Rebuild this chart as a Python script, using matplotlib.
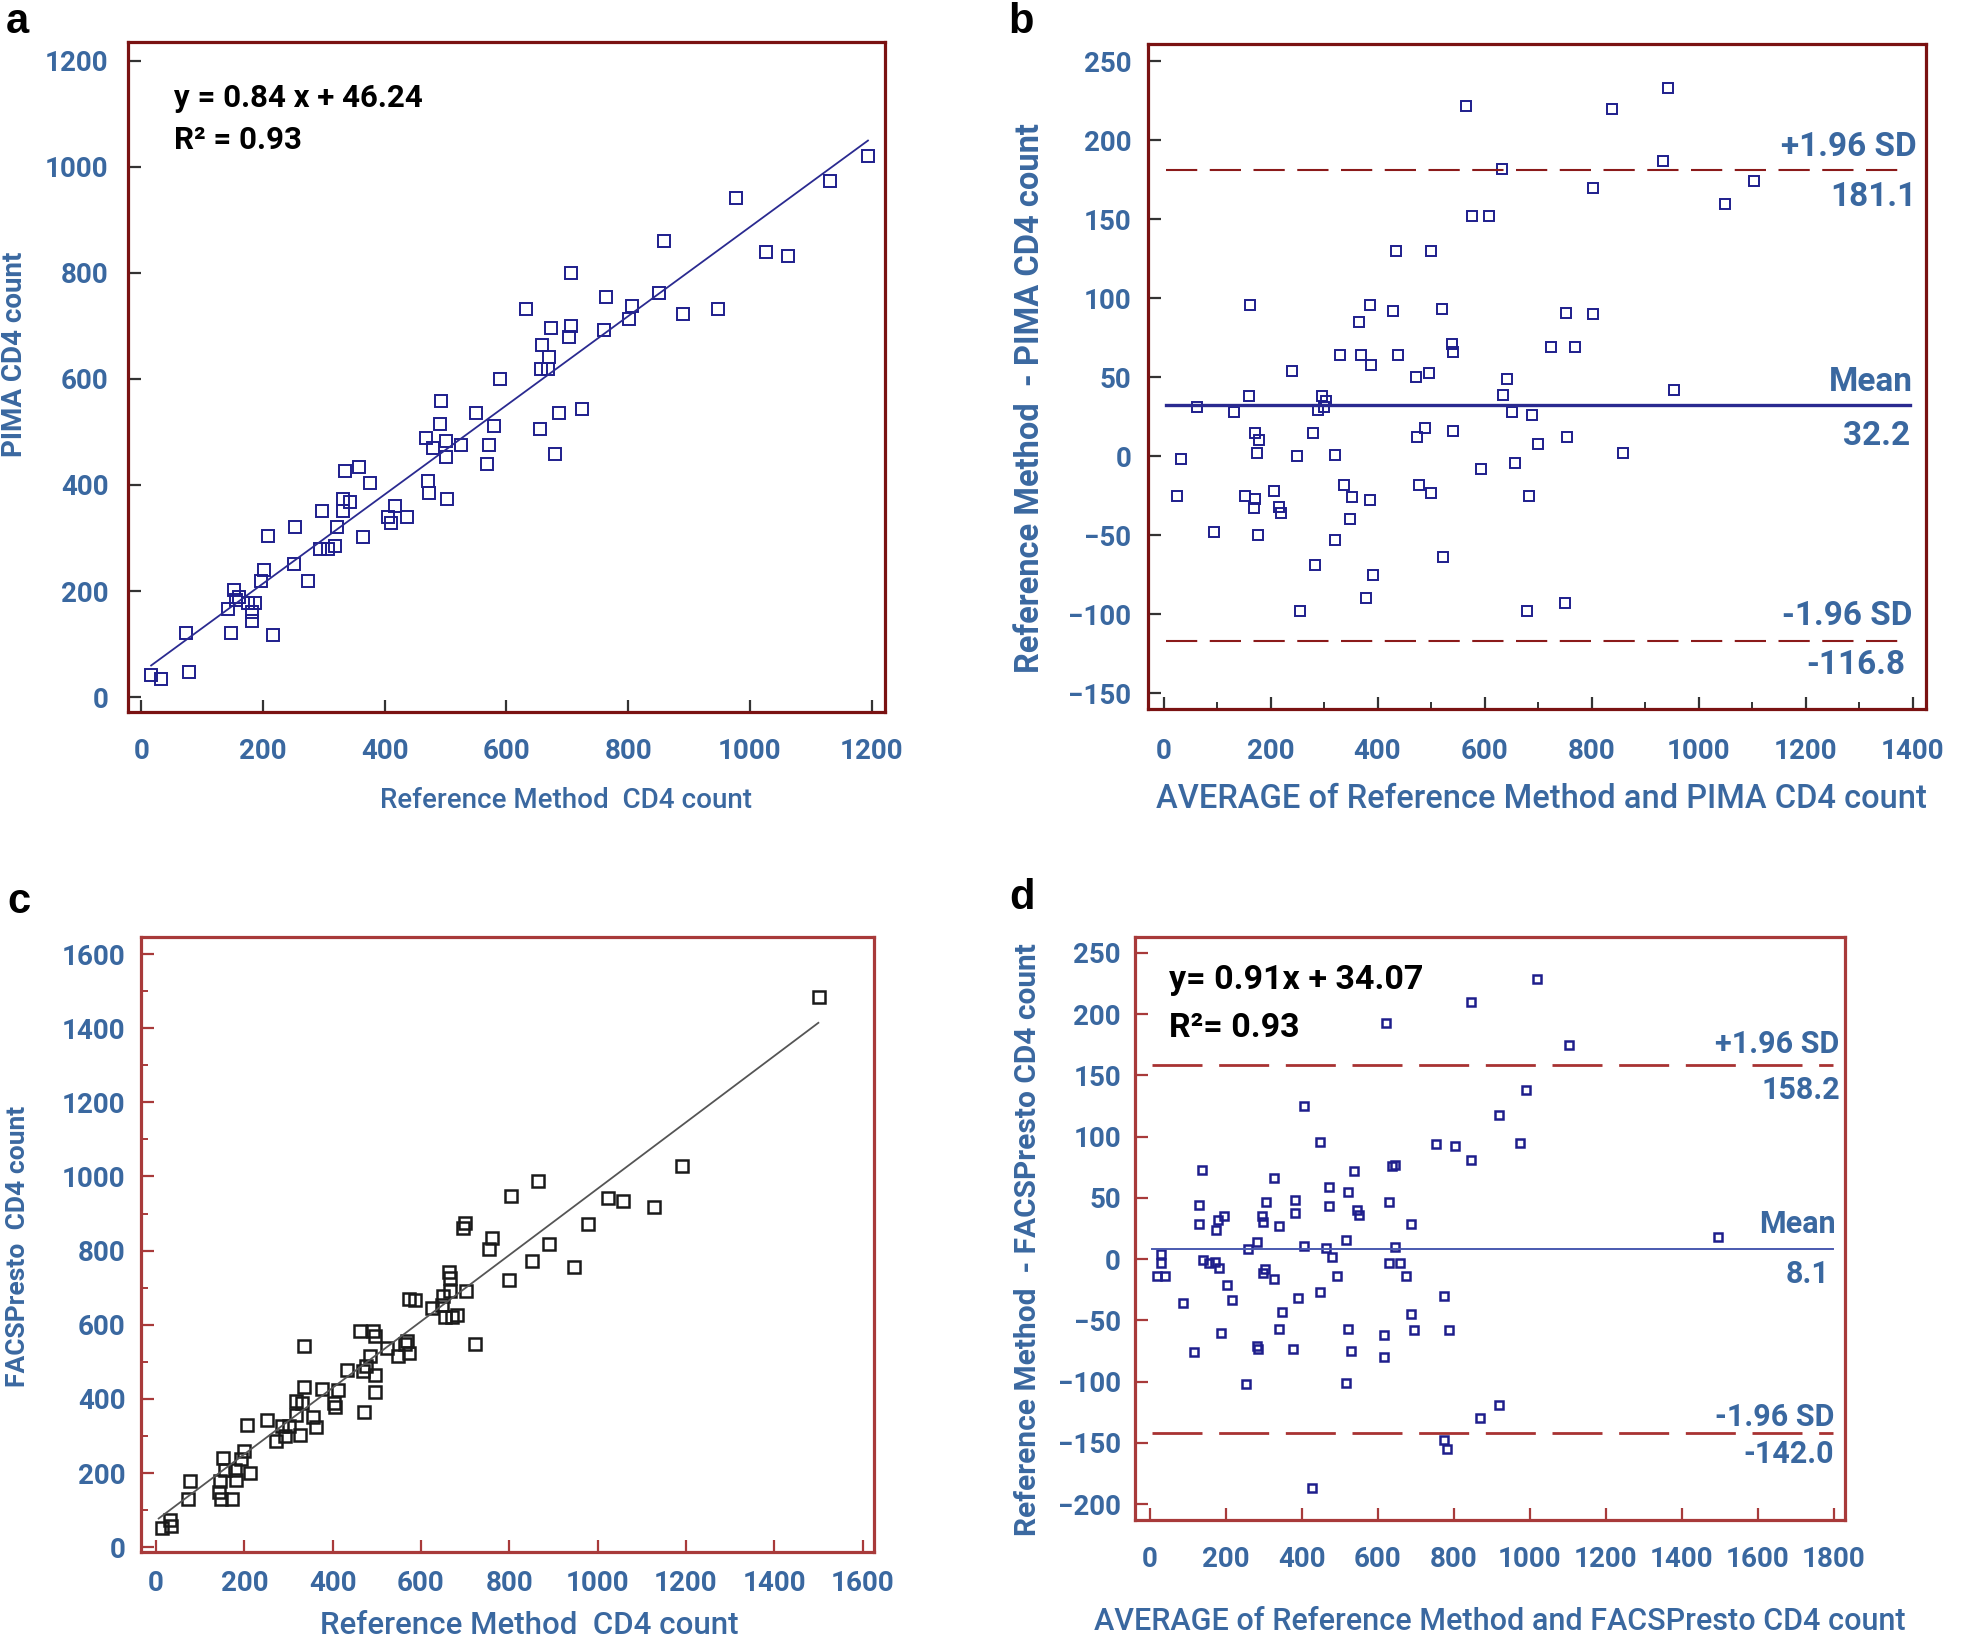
import numpy as np
import matplotlib
matplotlib.use("Agg")
import matplotlib.pyplot as plt
from matplotlib.ticker import MultipleLocator

plt.rcParams['font.family'] = ['Roboto', 'DejaVu Sans']
plt.rcParams['font.weight'] = 'bold'

W, H = 1961, 1639
BLUE_TXT = '#3a68a0'
NAVY = '#1e1e8c'

# ---- panel a: PIMA vs reference
a_x = [16, 33, 74, 79, 143, 148, 152, 156, 161, 176, 181, 182, 186, 196, 202, 208, 216,
       252, 251, 273, 294, 296, 306, 318, 322, 331, 331, 335, 343, 358, 364, 376, 406,
       411, 417, 437, 467, 471, 473, 480, 490, 492, 500, 500, 502, 525, 550, 568, 571,
       579, 590, 632, 655, 657, 658, 668, 670, 673, 679, 686, 703, 706, 706, 724, 760,
       763, 802, 807, 850, 859, 890, 948, 977, 1026, 1062, 1131, 1194]
a_y = [41, 35, 121, 48, 166, 121, 202, 184, 189, 177, 160, 144, 177, 219, 239, 304, 117,
       320, 251, 219, 279, 350, 279, 285, 320, 350, 374, 426, 367, 433, 301, 403, 340,
       328, 361, 340, 489, 407, 385, 470, 515, 558, 482, 453, 373, 476, 536, 440, 476,
       511, 600, 732, 506, 619, 664, 619, 641, 696, 459, 536, 679, 699, 799, 543, 692,
       755, 713, 738, 761, 860, 722, 732, 940, 840, 831, 973, 1020]
a_slope, a_icpt = 0.84, 46.24

# ---- panel b: Bland-Altman PIMA
b_x = [25, 33, 62, 94, 131, 153, 159, 162, 169, 171, 171, 174, 178, 177, 206, 216, 219,
       241, 249, 256, 280, 283, 288, 297, 299, 303, 321, 321, 330, 337, 349, 353, 366,
       369, 379, 385, 387, 386, 392, 429, 434, 438, 472, 473, 477, 489, 497, 499, 499,
       521, 522, 539, 541, 541, 566, 577, 593, 608, 632, 634, 641, 651, 657, 680, 683,
       688, 699, 725, 750, 753, 755, 769, 802, 802, 839, 859, 933, 942, 954, 1050, 1104]
b_y = [-25, -2, 31, -48, 28, -25, 38, 96, -33, 15, -27, 2, 10, -50, -22, -32, -36,
       54, 0, -98, 15, -69, 29, 38, 31, 35, 1, -53, 64, -18, -40, -26, 85,
       64, -90, 96, 58, -28, -75, 92, 130, 64, 50, 12, -18, 18, 53, 130, -23,
       93, -64, 71, 66, 16, 222, 152, -8, 152, 182, 39, 49, 28, -4, -98, -25,
       26, 8, 69, -93, 91, 12, 69, 170, 90, 220, 2, 187, 233, 42, 160, 174]
b_mean, b_upper, b_lower = 32.2, 181.1, -116.8

# ---- panel c: FACSPresto vs reference
c_x = [14, 33, 31, 72, 78, 142, 145, 147, 151, 156, 173, 178, 182, 193, 200, 212, 207,
       251, 271, 286, 291, 302, 316, 317, 326, 330, 336, 336, 355, 362, 375, 403, 406,
       412, 432, 463, 470, 468, 476, 484, 492, 497, 497, 497, 523, 548, 563, 568, 574,
       574, 587, 624, 647, 649, 654, 663, 665, 666, 671, 682, 696, 700, 702, 722, 753,
       760, 800, 805, 851, 864, 890, 946, 978, 1024, 1058, 1127, 1192, 1501]
c_y = [52, 58, 72, 130, 179, 149, 179, 131, 241, 209, 130, 208, 182, 237, 260, 199, 330,
       343, 286, 327, 301, 327, 357, 395, 303, 390, 543, 432, 351, 323, 428, 388, 379,
       425, 477, 582, 366, 475, 490, 517, 582, 570, 464, 419, 536, 517, 549, 556, 523,
       670, 666, 646, 654, 678, 621, 742, 726, 691, 621, 625, 861, 874, 691, 549, 804,
       833, 722, 948, 773, 988, 819, 756, 872, 942, 935, 917, 1027, 1485]
c_slope, c_icpt = 0.895, 72

# ---- panel d: Bland-Altman FACSPresto
d_x = [29, 29, 19, 39, 87, 116, 130, 130, 138, 140, 155, 172, 174, 179, 182, 188, 196,
       203, 217, 254, 258, 282, 283, 285, 296, 298, 303, 306, 299, 327, 327, 341, 341,
       349, 383, 383, 378, 391, 406, 406, 449, 449, 464, 472, 472, 478, 493, 515, 515,
       522, 522, 528, 536, 544, 551, 615, 615, 621, 630, 630, 638, 646, 646, 657, 673,
       688, 688, 694, 752, 773, 773, 781, 787, 802, 845, 845, 868, 918, 918, 974, 989,
       1018, 1104, 1494, 427]
d_y = [4, -3, -14, -14, -36, -76, 44, 29, 73, -1, -3, -2, 24, 32, -7, -60, 35,
       -21, -33, -102, 8, 14, -71, -73, 35, 30, -8, 47, -11, 66, -16, 27, -57,
       -43, 48, 38, -73, -32, 125, 11, 96, -27, 9, 59, 43, 2, -14, 16, -101,
       55, -57, -75, 72, 40, 36, -62, -80, 193, 47, -3, 76, 77, 10, -3, -14,
       29, -45, -58, 94, -30, -148, -155, -58, 92, 210, 81, -130, 118, -119, 95, 138,
       229, 175, 18, -187]
d_mean, d_upper, d_lower = 8.1, 158.2, -142.0


def px_axes(fig, l, r, t, b):
    return fig.add_axes([l / W, 1 - b / H, (r - l) / W, (b - t) / H])


def style(ax, spine_col, tick_col, xpad, ypad):
    for s in ax.spines.values():
        s.set_color(spine_col)
        s.set_linewidth(2.3)
    ax.tick_params(direction='in', length=9, width=1.6, color=tick_col,
                   labelsize=20, labelcolor=BLUE_TXT, top=False, right=False)
    ax.tick_params(axis='x', pad=xpad)
    ax.tick_params(axis='y', pad=ypad)
    ax.tick_params(which='minor', direction='in', length=5, width=1.4, color=tick_col)


def ftext(x, y, s, **kw):
    fig.text(x / W, 1 - y / H, s, **kw)


fig = plt.figure(figsize=(W / 100, H / 100), dpi=100)

# panel a
ax = px_axes(fig, 128, 885, 42, 712)
ax.plot(a_x, a_y, 's', mfc='none', mec=NAVY, ms=8, mew=1.4)
fx = np.array([min(a_x), max(a_x)])
ax.plot(fx, a_slope * fx + a_icpt, color='#2a2a90', lw=1.3)
ax.set_xlim(-22, 1222)
ax.set_ylim(-28, 1235)
ax.set_xticks(range(0, 1201, 200))
ax.set_yticks(range(0, 1201, 200))
style(ax, '#7a1212', '#333333', 19, 14)
ax.text(54, 1129, 'y = 0.84 x + 46.24', fontsize=22.5, va='center')
ax.text(54, 1050, 'R² = 0.93', fontsize=22.5, va='center')

# panel b
ax = px_axes(fig, 1148, 1926, 44, 709)
ax.plot(b_x, b_y, 's', mfc='none', mec=NAVY, ms=7, mew=1.4)
ax.plot([5, 1383], [b_upper, b_upper], color='#8b1a1a', lw=1.5, dashes=(15, 6))
ax.plot([5, 1383], [b_lower, b_lower], color='#8b1a1a', lw=1.5, dashes=(15, 6))
ax.plot([5, 1396], [b_mean, b_mean], color='#2a2a90', lw=2.4)
ax.set_xlim(-29, 1425)
ax.set_ylim(-160, 261)
ax.set_xticks(range(0, 1401, 200))
ax.xaxis.set_minor_locator(MultipleLocator(100))
ax.set_yticks(range(-150, 251, 50))
style(ax, '#7a1212', '#333333', 21, 12)
kw = dict(fontsize=24, color=BLUE_TXT, ha='right', va='center')
ax.text(1408, 196, '+1.96 SD', **kw)
ax.text(1408, 164, f'{b_upper:.1f}', **kw)
ax.text(1400, 47, 'Mean', **kw)
ax.text(1396, 13, f'{b_mean:.1f}', **kw)
ax.text(1400, -101, '-1.96 SD', **kw)
ax.text(1387, -132, f'{b_lower:.1f}', **kw)

# panel c
ax = px_axes(fig, 141, 874, 937, 1552)
ax.plot(c_x, c_y, 's', mfc='none', mec='#1a1a1a', ms=8.5, mew=1.8)
fx = np.array([6, 1500])
ax.plot(fx, c_slope * fx + c_icpt, color='#555555', lw=1.3)
ax.set_xlim(-34, 1626)
ax.set_ylim(-13, 1646)
ax.set_xticks(range(0, 1601, 200))
ax.set_yticks(range(0, 1601, 200))
ax.yaxis.set_minor_locator(MultipleLocator(100))
style(ax, '#a83a3a', '#a83a3a', 13, 11)

# panel d
ax = px_axes(fig, 1135, 1845, 937, 1520)
ax.plot(d_x, d_y, 's', mfc='none', mec=NAVY, ms=6, mew=1.8)
ax.plot([6, 1797], [d_upper, d_upper], color='#a83232', lw=2.0, dashes=(18, 6))
ax.plot([6, 1797], [d_lower, d_lower], color='#a83232', lw=2.0, dashes=(18, 6))
ax.plot([6, 1797], [d_mean, d_mean], color='#4a5ab0', lw=1.4)
ax.set_xlim(-39, 1829)
ax.set_ylim(-213, 263)
ax.set_xticks(range(0, 1801, 200))
ax.set_yticks(range(-200, 251, 50))
style(ax, '#a83a3a', '#a83a3a', 19, 10)
kw = dict(fontsize=22, color=BLUE_TXT, ha='right', va='center')
ax.text(1813, 176, '+1.96 SD', **kw)
ax.text(1816, 138, f'{d_upper:.1f}', **kw)
ax.text(1805, 29, 'Mean', **kw)
ax.text(1789, -12, f'{d_mean:.1f}', **kw)
ax.text(1800, -129, '-1.96 SD', **kw)
ax.text(1800, -159, f'{d_lower:.1f}', **kw)
ax.text(50, 228, 'y= 0.91x + 34.07', fontsize=24.5, va='center')
ax.text(50, 189, 'R²= 0.93', fontsize=24.5, va='center')

# axis labels
lab = dict(color=BLUE_TXT, ha='center', va='center')
ftext(566, 800, 'Reference Method  CD4 count', fontsize=20, fontweight='medium', **lab)
ftext(15, 354, 'PIMA CD4 count', fontsize=20, rotation=90, **lab)
ftext(1541, 799, 'AVERAGE of Reference Method and PIMA CD4 count', fontsize=23.5,
      fontweight='medium', **lab)
ftext(1030, 398, 'Reference Method  - PIMA CD4 count', fontsize=23.5, rotation=90, **lab)
ftext(529, 1625, 'Reference Method  CD4 count', fontsize=22.5, fontweight='medium', **lab)
ftext(18, 1246, 'FACSPresto  CD4 count', fontsize=19, rotation=90, **lab)
ftext(1500, 1621, 'AVERAGE of Reference Method and FACSPresto CD4 count', fontsize=22,
      fontweight='medium', **lab)
ftext(1028, 1240, 'Reference Method  - FACSPresto CD4 count', fontsize=21.5, rotation=90, **lab)

# panel letters
pl = dict(fontsize=30, fontweight='bold', family='Liberation Sans', ha='center', va='center')
ftext(17, 22, 'a', **pl)
ftext(1021, 22, 'b', **pl)
ftext(19, 902, 'c', **pl)
ftext(1022, 898, 'd', **pl)

fig.savefig('out.png', dpi=100)
